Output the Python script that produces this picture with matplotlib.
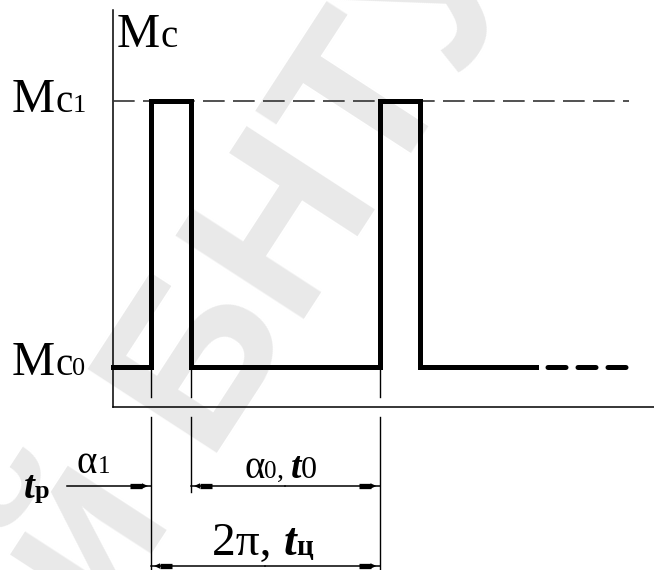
import matplotlib.pyplot as plt

# load torque levels and switching instants (diagram units, origin at axis corner)
mc0 = 40
mc1 = 306
edges = [38, 78, 266.5, 306.5]      # rise/fall of the two load pulses
t_begin, t_solid, t_end = 0, 423, 516
ext_low = [-163, -85, -163]          # lower ends of the extension lines
dim_y1 = -79                         # alpha dimension line
dim_y2 = -159                        # cycle dimension line
tp_start = -46

# step curve built from the levels
curve_t = [t_begin]
curve_m = [mc0]
level = mc0
for e in edges:
    curve_t += [e, e]
    curve_m += [level, mc1 if level == mc0 else mc0]
    level = curve_m[-1]
curve_t.append(t_solid)
curve_m.append(level)

plt.rcParams["font.serif"] = ["Liberation Serif", "DejaVu Serif"]
serif = ["Liberation Serif", "DejaVu Serif"]

fig = plt.figure(figsize=(6.54, 5.7), dpi=100)
ax = fig.add_axes([0, 0, 1, 1])
ax.set_xlim(-113, 541)
ax.set_ylim(-163, 407)
ax.axis("off")
renderer = fig.canvas.get_renderer()

# watermark
ax.text(420, 440, "Репозиторий БНТУ", rotation=57, fontsize=160, color="#e9e9e9",
        family="Liberation Sans", weight="bold", ha="right", va="baseline",
        rotation_mode="anchor", zorder=0)

# axes
ax.plot([0, 0], [0, 397], color="black", lw=1.1)
ax.plot([0, 541], [0, 0], color="black", lw=1.1)

# dashed Mc1 level
ax.plot([0, t_end], [mc1, mc1], color="#333333", lw=1.2, dashes=(13, 5))

# load curve
ax.plot(curve_t, curve_m, color="black", lw=3.6, solid_joinstyle="miter")
ax.plot([t_solid, t_end], [mc0, mc0], color="black", lw=3.6,
        linestyle=(3.7, (3.6, 2.4)), dash_capstyle="round")

# extension lines
for x, lo in zip(edges[:3], ext_low):
    ax.plot([x, x], [mc0, 10], color="black", lw=1)
    ax.plot([x, x], [-10, lo], color="black", lw=1)


def dim_arrow(tip, tail, y):
    d = 1 if tip > tail else -1
    ax.plot([tail, tip], [y, y], color="black", lw=1.1)
    ax.plot([tip - 21 * d, tip - 9 * d], [y, y], color="black", lw=3.8,
            solid_capstyle="butt")
    ax.fill([tip - 9 * d, tip - 3 * d, tip - 9 * d], [y + 2.7, y, y - 2.7],
            color="black", lw=0)


dim_arrow(edges[0], tp_start, dim_y1)
mid = (edges[1] + edges[2]) / 2
dim_arrow(edges[1], mid, dim_y1)
dim_arrow(edges[2], mid, dim_y1)
mid = (edges[0] + edges[2]) / 2
dim_arrow(edges[0], mid, dim_y2)
dim_arrow(edges[2], mid, dim_y2)


def label(x, y, parts):
    # write pieces one after another on a common baseline
    for s, size, kw in parts:
        t = ax.text(x, y, s, fontsize=size, family=serif, ha="left",
                    va="baseline", **kw)
        bb = t.get_window_extent(renderer)
        x = ax.transData.inverted().transform((bb.x1, bb.y0))[0]


bi = dict(weight="bold", style="italic")

# axis and level labels
label(4, 360, [("M", 35, {}), ("c", 28, {})])
label(-101, 295, [("M", 35, {}), ("c", 28, {}), ("1", 19, {})])
label(-101, 32, [("M", 35, {}), ("c", 28, {}), ("0", 19, {})])

# dimension labels
label(-89, -91, [("t", 28, bi), ("р", 19, dict(weight="bold"))])
label(-36, -66, [("α", 28, {}), ("1", 18, {})])
label(131, -71, [("α", 28, {}), ("0", 18, {}), (", ", 20, {}), ("t", 27, bi),
                 ("0", 23, {})])
label(99, -148, [("2π, ", 34, {}), ("t", 33, bi), ("ц", 21, dict(weight="bold"))])

fig.savefig("out.png", dpi=100)
